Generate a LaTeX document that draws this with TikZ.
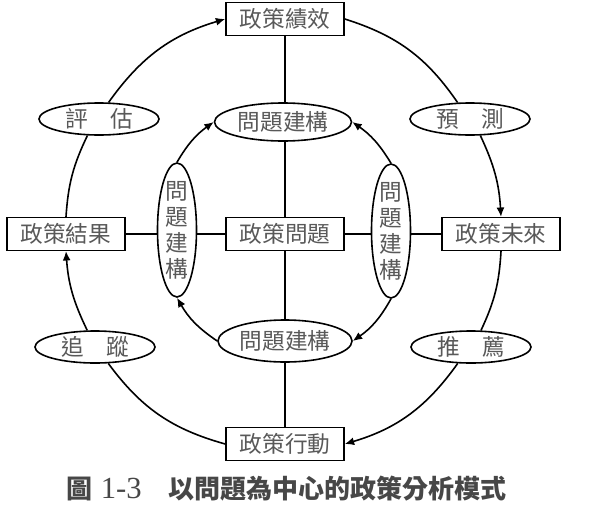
\documentclass[tikz,border=0pt]{standalone}
\usepackage{fontspec}
\setmainfont{Liberation Serif}
\newfontfamily\cjk{Noto Sans CJK TC}
\usetikzlibrary{arrows.meta,shapes.geometric}

\begin{document}
\begin{tikzpicture}[x=0.75pt,y=-0.75pt,line width=1.2pt,
  every node/.style={font=\cjk\fontsize{17}{19.5}\selectfont, text=black!65},
  box/.style={draw=black, fill=white, minimum width=88.5pt, minimum height=24.5pt, inner sep=0pt},
  oval/.style={draw=black, ellipse, fill=white, minimum width=90pt, minimum height=24pt, inner sep=0pt},
  flow/.style={-{Latex[length=7pt,width=6pt]}}]
\useasboundingbox (0,0) rectangle (593,507);
% boxes
\node[box] (jixiao) at (285,19) {政策績效};
\node[box] (jieguo) at (66,234) {政策結果};
\node[box] (wenti) at (285,234) {政策問題};
\node[box] (weilai) at (501,234) {政策未來};
\node[box] (xingdong) at (285,444) {政策行動};
\draw (jixiao.south) -- (xingdong.north);
\draw (jieguo.east) -- (weilai.west);
\node[box] at (wenti) {政策問題};
% ellipses
\node[oval] (pinggu) at (99,119) {評　估};
\node[oval] (yuce) at (470,119) {預　測};
\node[oval] (zhuizong) at (95,347) {追　蹤};
\node[oval] (tuijian) at (471,347) {推　薦};
\node[oval, minimum width=102.75pt, minimum height=28.5pt] (jgtop) at (283,122) {問題建構};
\node[oval, minimum width=100.5pt, minimum height=31.5pt] (jgbot) at (285,341) {問題建構};
\node[oval, minimum width=29.25pt, minimum height=100.5pt, inner sep=-3pt, align=center] (jgleft) at (177,230) {問\\題\\建\\構};
\node[oval, minimum width=29.25pt, minimum height=100.5pt, inner sep=-3pt, align=center] (jgright) at (391,231) {問\\題\\建\\構};
% outer cycle
\draw[flow] (pinggu.60) to[bend left=19] (jixiao.west);
\draw (jixiao.east) to[bend left=19] (yuce.127);
\draw[flow] (yuce.302) to[bend left=11] (weilai.north);
\draw (weilai.south) to[bend left=11] (tuijian.59);
\draw[flow] (tuijian.231) to[bend left=19] (xingdong.east);
\draw (xingdong.west) to[bend left=19] (zhuizong.309);
\draw[flow] (zhuizong.115) to[bend left=11] (jieguo.south);
\draw (jieguo.north) to[bend left=11] (pinggu.235);
% inner cycle
\draw[flow] (jgleft.north) to[bend left=12] (jgtop.west);
\draw[flow] (jgright.north) to[bend right=12] (jgtop.east);
\draw[flow] (jgbot.west) to[bend left=13] (jgleft.south);
\draw[flow] (jgright.south) to[bend left=13] (jgbot.east);
% caption
\node[anchor=west, inner sep=0pt, text=black!72, font=\cjk\bfseries\fontsize{19.5}{23}\selectfont] (caption) at (66,489)
  {圖\hspace{6pt}{\rmfamily\mdseries\fontsize{23}{23}\selectfont 1-3}\hspace{20pt}以問題為中心的政策分析模式};
\end{tikzpicture}
\end{document}
